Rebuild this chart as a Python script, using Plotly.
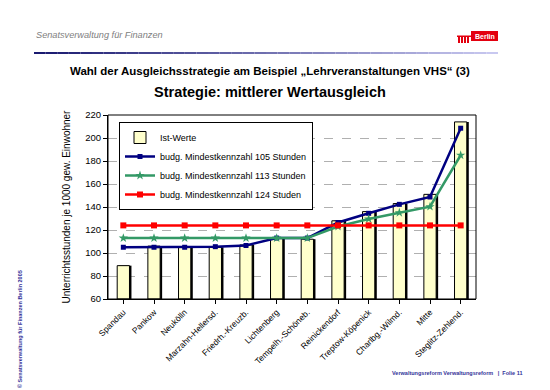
import plotly.graph_objects as go

categories = ["Spandau", "Pankow", "Neukölln", "Marzahn-Hellersd.", "Friedrh.-Kreuzb.",
              "Lichtenberg", "Tempelh.-Schöneb.", "Reinickendorf", "Treptow-Köpenick",
              "Charlbg.-Wilmd.", "Mitte", "Steglitz-Zehlend."]
ist_werte = [89, 106, 105, 105, 107, 113, 112, 128, 136, 143, 151, 214]
mindest_105 = [105, 105, 105, 105.5, 106.5, 113, 113, 126.5, 134.5, 142.3, 148.7, 208.5]
mindest_113 = [113, 113, 113, 113, 113, 113, 113, 123, 129.6, 135, 140.3, 185]
mindest_124 = [124, 124, 124, 124, 124, 124, 124, 124, 124, 124, 124, 124]

y_ticks = [60, 80, 100, 120, 140, 160, 180, 200, 220]

x_idx = list(range(len(categories)))

fig = go.Figure()

# bar shadow
fig.add_trace(go.Bar(x=x_idx, y=[v - 60 for v in ist_werte], base=60, width=0.4, offset=-0.135,
                     marker=dict(color="black", line=dict(width=0)),
                     showlegend=False, hoverinfo="skip"))
fig.add_trace(go.Bar(x=x_idx, y=[v - 60 for v in ist_werte], base=60, width=0.4, offset=-0.2,
                     name="Ist-Werte",
                     marker=dict(color="#FFFFCC", line=dict(color="black", width=1))))
fig.add_trace(go.Scatter(x=x_idx, y=mindest_105, mode="lines+markers",
                         name="budg. Mindestkennzahl 105 Stunden",
                         line=dict(color="#000080", width=2.5),
                         marker=dict(symbol="square", size=5, color="#000080")))
fig.add_trace(go.Scatter(x=x_idx, y=mindest_113, mode="lines+markers",
                         name="budg. Mindestkennzahl 113 Stunden",
                         line=dict(color="#339966", width=2.5),
                         marker=dict(symbol="star", size=7, color="#339966")))
fig.add_trace(go.Scatter(x=x_idx, y=mindest_124, mode="lines+markers",
                         name="budg. Mindestkennzahl 124 Studen",
                         line=dict(color="#FF0000", width=2.5),
                         marker=dict(symbol="square", size=6, color="#FF0000")))

L, R, T, B = 108, 74, 115, 91
W, H = 550, 390
pw, ph = W - L - R, H - T - B

def px(x):
    return (x - L) / pw

def py(y):
    return (H - B - y) / ph

shapes = []
# header gradient line
n = 40
x0, x1 = 34, 498
c0 = (0x1a, 0x1a, 0x70)
c1 = (0xc8, 0xc8, 0xf0)
for i in range(n):
    t = i / (n - 1)
    col = "rgb(%d,%d,%d)" % tuple(int(c0[k] + (c1[k] - c0[k]) * t) for k in range(3))
    shapes.append(dict(type="rect", xref="paper", yref="paper",
                       x0=px(x0 + (x1 - x0) * i / n), x1=px(x0 + (x1 - x0) * (i + 1) / n),
                       y0=py(54), y1=py(52), fillcolor=col, line=dict(width=0), layer="above"))
# Berlin logo
shapes.append(dict(type="rect", xref="paper", yref="paper", x0=px(471), x1=px(498),
                   y0=py(41), y1=py(31), fillcolor="#E3000F", line=dict(width=0)))
for bx in [458, 461, 464, 467]:
    shapes.append(dict(type="rect", xref="paper", yref="paper", x0=px(bx), x1=px(bx + 2),
                       y0=py(43), y1=py(37), fillcolor="#E3000F", line=dict(width=0)))
shapes.append(dict(type="rect", xref="paper", yref="paper", x0=px(457), x1=px(471),
                   y0=py(37), y1=py(35.5), fillcolor="#E3000F", line=dict(width=0)))
# plot frame (top & right)
shapes.append(dict(type="rect", xref="paper", yref="paper", x0=0, x1=1, y0=0, y1=1,
                   line=dict(color="black", width=1), fillcolor="rgba(0,0,0,0)"))

annotations = [
    dict(text="<i>Senatsverwaltung für Finanzen</i>", x=px(34), y=py(35), xref="paper", yref="paper",
         xanchor="left", yanchor="middle", showarrow=False,
         font=dict(family="Arial", size=9.2, color="#808080")),
    dict(text="<b>Berlin</b>", x=px(484.5), y=py(36), xref="paper", yref="paper",
         xanchor="center", yanchor="middle", showarrow=False,
         font=dict(family="Arial", size=7, color="white")),
    dict(text="<b>Wahl der Ausgleichsstrategie am Beispiel „Lehrveranstaltungen VHS“ (3)</b>",
         x=px(270), y=py(71), xref="paper", yref="paper", xanchor="center", yanchor="middle",
         showarrow=False, font=dict(family="Arial", size=11.5, color="black")),
    dict(text="<b>Strategie: mittlerer Wertausgleich</b>",
         x=px(270), y=py(92), xref="paper", yref="paper", xanchor="center", yanchor="middle",
         showarrow=False, font=dict(family="Arial", size=14.5, color="black")),
    dict(text="<b>Verwaltungsreform Verwaltungsreform   |  Folie 11</b>", x=px(525), y=py(373),
         xref="paper", yref="paper", xanchor="right", yanchor="middle", showarrow=False,
         font=dict(family="Arial", size=5.5, color="#333399")),
    dict(text="<b>© Senatsverwaltung für Finanzen Berlin 2005</b>", x=px(20), y=py(329),
         xref="paper", yref="paper", xanchor="center", yanchor="middle", showarrow=False,
         textangle=-90, font=dict(family="Arial", size=5.5, color="#333399")),
]

fig.update_layout(
    width=W, height=H,
    margin=dict(l=L, r=R, t=T, b=B),
    paper_bgcolor="white", plot_bgcolor="white",
    barmode="overlay",
    font=dict(family="Arial", size=10, color="black"),
    showlegend=True,
    legend=dict(x=px(119), y=py(122), xanchor="left", yanchor="top",
                bgcolor="white", bordercolor="black", borderwidth=1,
                font=dict(family="Arial", size=9, color="black"),
                tracegroupgap=0),
    shapes=shapes,
    annotations=annotations,
    xaxis=dict(tickmode="array", tickvals=x_idx, ticktext=categories,
               range=[-0.5, len(categories) - 0.5], tickangle=-45,
               tickson="boundaries", ticks="outside", ticklen=4, tickcolor="black",
               showline=True, linecolor="black", linewidth=1, showgrid=False,
               tickfont=dict(family="Arial", size=8.5, color="black")),
    yaxis=dict(range=[60, 220], tickvals=y_ticks, ticks="outside", ticklen=4, tickcolor="black",
               showline=True, linecolor="black", linewidth=1,
               showgrid=True, gridcolor="#B0B0B0", griddash="dash", gridwidth=1,
               zeroline=False,
               tickfont=dict(family="Arial", size=9.5, color="black"),
               title=dict(text="Unterrichtsstunden je 1000 gew. Einwohner",
                          font=dict(family="Arial", size=10, color="black"), standoff=12)),
)

fig.write_html("out.html", config={"displayModeBar": False},
               post_script="document.body.style.margin='0px';")
